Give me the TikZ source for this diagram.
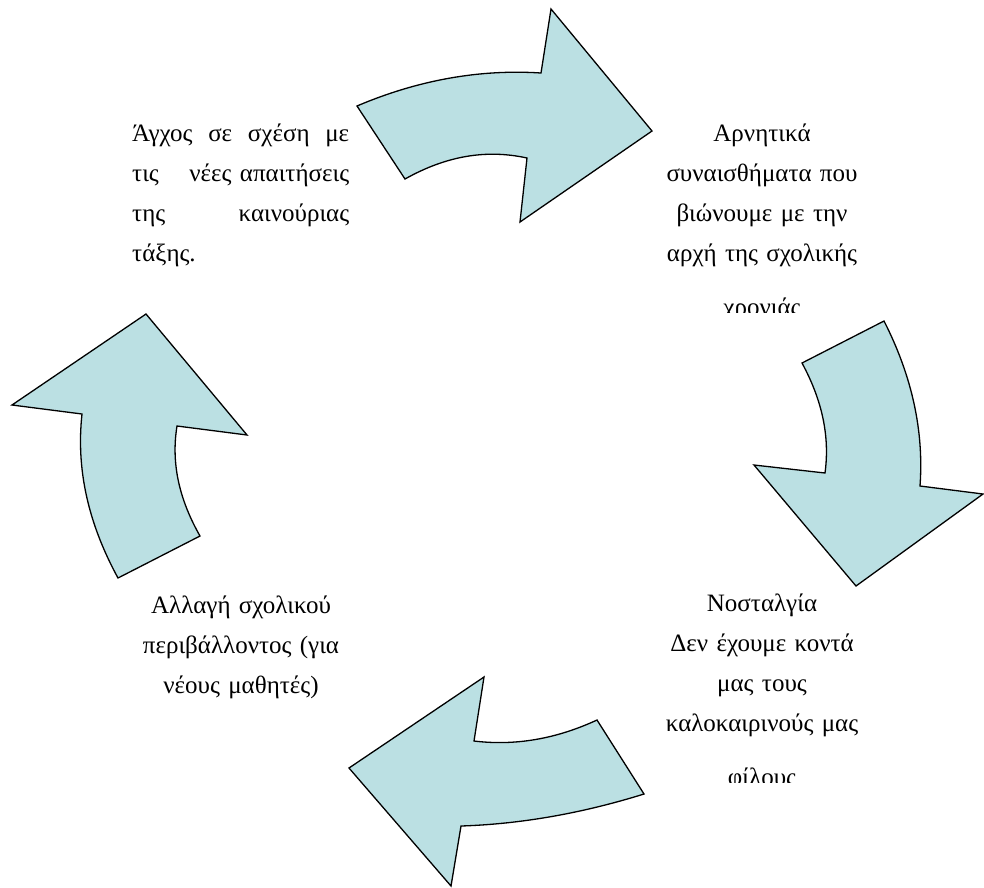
\documentclass[tikz,border=0pt]{standalone}
\usepackage{fontspec}
\setmainfont{Liberation Serif}
\usepackage{xcolor}
\usepackage{tikz}
\usetikzlibrary{positioning}
\definecolor{cyclefill}{RGB}{187,224,227}
\tikzset{
  % --- curved arrows of the cycle -------------------------------------------
  cyclearrow/.style={fill=cyclefill,draw=black,line width=1.3pt,
                     line join=miter},
  % --- text blocks -------------------------------------------------------------
  cycletext/.style={inner sep=0pt,font=\fontsize{25}{40}\selectfont,
                    text width=240pt,align=center},
  jtext/.style={cycletext,text width=217pt,align=left},
}

\begin{document}
\begin{tikzpicture}[x=1pt, y=-1pt]
  \useasboundingbox (0,0) rectangle (984,887);

  % arrows, clockwise from the top
  \draw[cyclearrow] (357,106) .. controls (418,80) and (480,69) .. (541,73)
        -- (551,9) -- (652,131) -- (520,222) -- (527,158)
        .. controls (486,149) and (446,156) .. (405,179) -- cycle;
  \draw[cyclearrow] (802,363) -- (884,321)
        .. controls (912,376) and (924,431) .. (920,486)
        -- (983,494) -- (856,586) -- (754,465) -- (825,473)
        .. controls (830,436) and (822,400) .. (802,363) -- cycle;
  \draw[cyclearrow] (484,677) -- (474,741)
        .. controls (515,746) and (556,739) .. (597,720)
        -- (644,794) .. controls (583,813) and (522,824) .. (461,826)
        -- (451,886) -- (349,768) -- cycle;
  \draw[cyclearrow] (146,314) -- (247,435) -- (177,426)
        .. controls (171,463) and (179,499) .. (200,536) -- (118,578)
        .. controls (88,523) and (76,469) .. (82,414) -- (12,405) -- cycle;

  % texts
  \node[jtext,anchor=base west] (anxiety) at (132,141.5)
       {Άγχος \hfill σε \hfill σχέση \hfill με\\
        τις \hfill νέες απαιτήσεις\\
        της \hfill καινούριας\\
        τάξης.};
  \begin{scope}
    \clip (640,100) rectangle (890,312);
    \node[cycletext,anchor=base] (feelings) at (762,141.5)
         {Αρνητικά\\ συναισθήματα που\\ βιώνουμε με την\\
          αρχή της σχολικής\\[14pt] χρονιάς};
  \end{scope}
  \begin{scope}
    \clip (640,570) rectangle (890,782);
    \node[cycletext,anchor=base] (nostalgia) at (762,611.5)
         {Νοσταλγία\\ Δεν έχουμε κοντά\\ μας τους\\
          καλοκαιρινούς μας\\[14pt] φίλους};
  \end{scope}
  \node[cycletext,anchor=base] (change) at (241,613)
       {Αλλαγή σχολικού\\ περιβάλλοντος (για\\ νέους μαθητές)};
\end{tikzpicture}
\end{document}
